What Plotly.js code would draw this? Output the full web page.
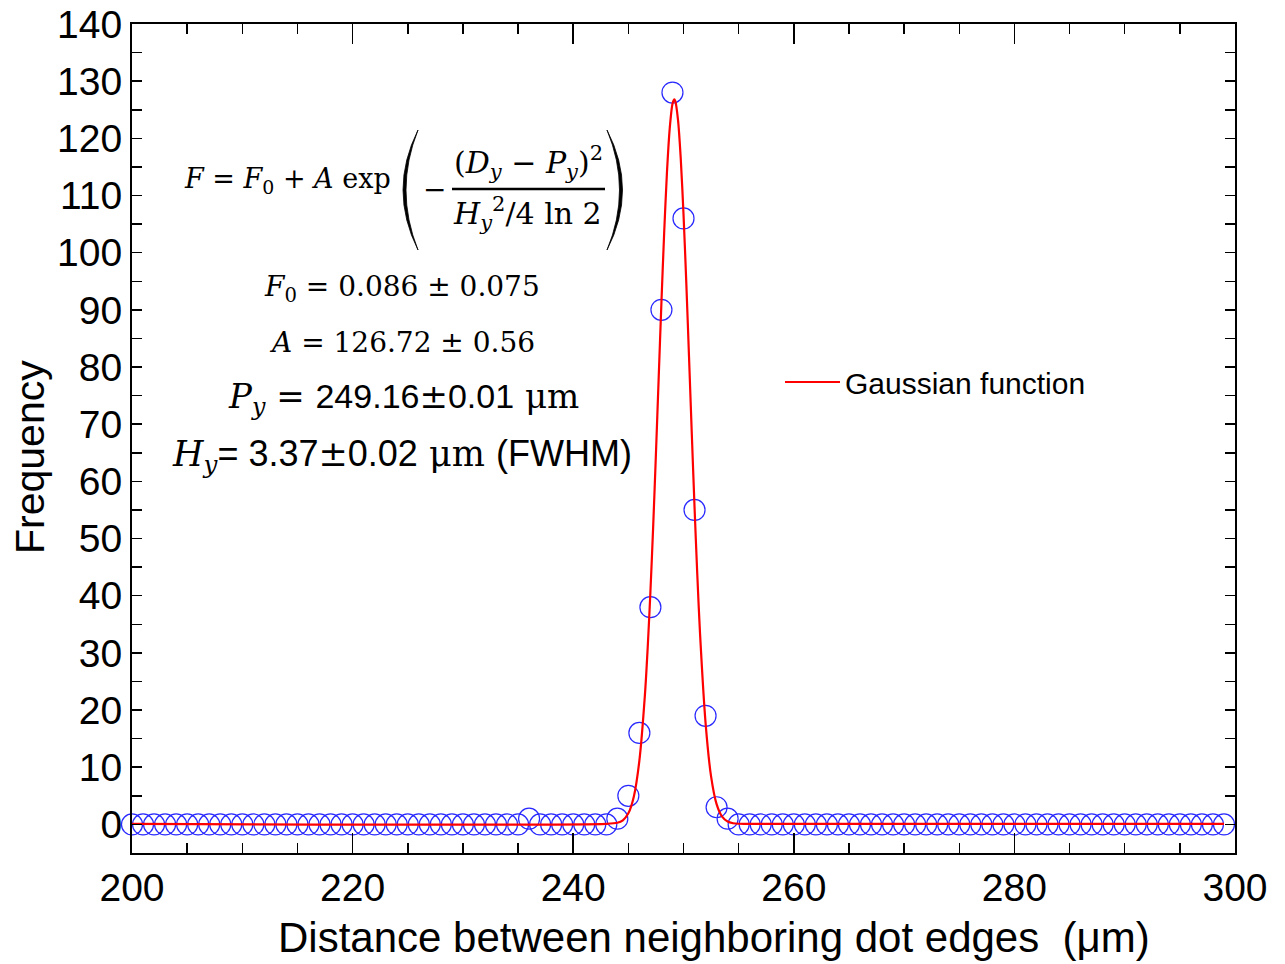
<!DOCTYPE html>
<html>
<head>
<meta charset="utf-8">
<script src="https://cdn.plot.ly/plotly-3.0.1.min.js"></script>
<style>html,body{margin:0;padding:0;background:#fff;}</style>
</head>
<body>
<div id="chart" style="width:1285px;height:964px;"></div>
<script>
// Measured frequencies (Distance 200..299 µm, step 1)
const distance = [
  200,201,202,203,204,205,206,207,208,209,
  210,211,212,213,214,215,216,217,218,219,
  220,221,222,223,224,225,226,227,228,229,
  230,231,232,233,234,235,236,237,238,239,
  240,241,242,243,244,245,246,247,248,249,
  250,251,252,253,254,255,256,257,258,259,
  260,261,262,263,264,265,266,267,268,269,
  270,271,272,273,274,275,276,277,278,279,
  280,281,282,283,284,285,286,287,288,289,
  290,291,292,293,294,295,296,297,298,299
];
const frequency = [
  0,0,0,0,0,0,0,0,0,0,
  0,0,0,0,0,0,0,0,0,0,
  0,0,0,0,0,0,0,0,0,0,
  0,0,0,0,0,0,1,0,0,0,
  0,0,0,0,1,5,16,38,90,128,
  106,55,19,3,1,0,0,0,0,0,
  0,0,0,0,0,0,0,0,0,0,
  0,0,0,0,0,0,0,0,0,0,
  0,0,0,0,0,0,0,0,0,0,
  0,0,0,0,0,0,0,0,0,0
];
// Gaussian fit curve
const fitX = [200, 243, 244, 244.5, 245, 245.5, 246, 246.5, 246.75, 247, 247.25, 247.5, 247.75,
  248, 248.25, 248.5, 248.75, 249, 249.16, 249.25, 249.5, 249.75, 250, 250.25, 250.5, 250.75,
  251, 251.25, 251.5, 252, 252.5, 253, 253.5, 254, 254.5, 255, 256, 299];
const fitY = [0.09, 0.1, 0.28, 0.72, 1.94, 4.9, 11.16, 22.61, 30.78, 40.65, 52.09, 64.75, 78.08,
  91.33, 103.61, 114.02, 121.71, 126.02, 126.81, 126.56, 123.28, 116.48, 106.76, 94.9, 81.84, 68.45,
  55.53, 43.71, 33.37, 17.77, 8.4, 3.55, 1.36, 0.5, 0.21, 0.12, 0.09, 0.09];

const xTickVals = [200, 220, 240, 260, 280, 300];
const yTickVals = [0,10,20,30,40,50,60,70,80,90,100,110,120,130,140];
const fitName = 'Gaussian function';
const xTitle = 'Distance between neighboring dot edges\u00a0 (\u03bcm)';
const yTitle = 'Frequency';

const SANS = 'Liberation Sans, Arial, sans-serif';
const SERIF = 'DejaVu Serif, serif';

// pixel -> paper helpers (plot area: x 132..1235, y 24..853)
const L = 132, R = 1235, T = 24, B = 853;
const PX = p => (p - L) / (R - L);
const PY = p => (B - p) / (B - T);
const pt = (x, y) => PX(x) + ',' + PY(y);

function ann(text, x, y, size, xanchor, family, extra) {
  return Object.assign({
    text: text, xref: 'paper', yref: 'paper', x: PX(x), y: PY(y),
    xanchor: xanchor || 'center', yanchor: 'middle', showarrow: false,
    font: {family: family || SERIF, size: size, color: '#000'}
  }, extra || {});
}
const sans = (t, s) => '<span style="font-family:Liberation Sans, Arial, sans-serif;font-size:' + s + 'px">' + t + '</span>';

const annotations = [
  ann('<i>F</i> = <i>F</i><sub>0</sub> + <i>A</i> exp', 182, 180, 27, 'left'),
  ann('\u2212', 434, 189, 28),
  ann('(<i>D</i><sub><i>y</i></sub> \u2212 <i>P</i><sub><i>y</i></sub>)<sup>2</sup>', 528, 163, 30),
  ann('<i>H</i><sub><i>y</i></sub><sup>2</sup>/4 ln 2', 527, 214, 30),
  ann('<i>F</i><sub>0</sub> = 0.086 \u00b1 0.075', 402, 288, 28),
  ann('<i>A</i> = 126.72 \u00b1 0.56', 402, 342, 28),
  ann('<i>P</i><sub><i>y</i></sub> = ' + sans('249.16', 34) + '\u00b1' + sans('0.01', 34) + ' \u03bcm', 403, 398, 34),
  ann('<i>H</i><sub><i>y</i></sub>' + sans('= 3.37', 36) + '\u00b1' + sans('0.02', 36) + ' \u03bcm ' + sans('(FWHM)', 36), 402, 456, 35),
  ann(xTitle, 714, 938, 42, 'center', SANS),
  ann(yTitle, 30, 457, 41, 'center', SANS, {textangle: -90})
];

const shapes = [
  // fraction bar
  {type: 'line', xref: 'paper', yref: 'paper', x0: PX(452), x1: PX(605), y0: PY(189), y1: PY(189),
   line: {color: '#000', width: 2.5}},
  // big left parenthesis
  {type: 'path', xref: 'paper', yref: 'paper',
   path: 'M' + pt(418,130) + ' Q' + pt(388,190) + ' ' + pt(418,250) + ' Q' + pt(394,190) + ' ' + pt(418,130) + ' Z',
   fillcolor: '#000', line: {color: '#000', width: 0.8}},
  // big right parenthesis
  {type: 'path', xref: 'paper', yref: 'paper',
   path: 'M' + pt(607,130) + ' Q' + pt(638,190) + ' ' + pt(607,250) + ' Q' + pt(632,190) + ' ' + pt(607,130) + ' Z',
   fillcolor: '#000', line: {color: '#000', width: 0.8}}
];

const traces = [
  {
    x: distance, y: frequency, type: 'scatter', mode: 'markers', showlegend: false,
    marker: {symbol: 'circle-open', size: 21, color: 'rgb(40,40,255)', line: {width: 1.2, color: 'rgb(40,40,255)'}},
    cliponaxis: false
  },
  {
    x: fitX, y: fitY, type: 'scatter', mode: 'lines', name: fitName,
    line: {color: '#ff0000', width: 2.2, shape: 'spline', smoothing: 0.8}
  }
];

const axisCommon = {
  showgrid: false, zeroline: false, showline: true, linecolor: '#000', linewidth: 2,
  mirror: 'ticks', ticks: 'inside', tickcolor: '#000', tickwidth: 1.5,
  tickfont: {family: SANS, size: 39, color: '#000'}
};

const layout = {
  width: 1285, height: 964,
  margin: {l: L, r: 1285 - R, t: T, b: 964 - B},
  paper_bgcolor: '#fff', plot_bgcolor: '#fff',
  xaxis: Object.assign({}, axisCommon, {
    range: [200, 300], tickmode: 'array', tickvals: xTickVals, ticklen: 20,
    minor: {dtick: 5, tick0: 200, ticklen: 10, ticks: 'inside', tickcolor: '#000', tickwidth: 1.5, showgrid: false},
    ticklabelstandoff: -1
  }),
  yaxis: Object.assign({}, axisCommon, {
    range: [-5, 140], tickmode: 'array', tickvals: yTickVals, ticklen: 10,
    minor: {dtick: 5, tick0: 0, ticklen: 10, ticks: 'inside', tickcolor: '#000', tickwidth: 1.5, showgrid: false},
    ticklabelstandoff: 0
  }),
  showlegend: true,
  legend: {
    x: PX(780), y: PY(382), xanchor: 'left', yanchor: 'middle',
    bgcolor: 'rgba(0,0,0,0)', borderwidth: 0, itemwidth: 55,
    font: {family: SANS, size: 30, color: '#000'}
  },
  annotations: annotations,
  shapes: shapes
};

Plotly.newPlot('chart', traces, layout, {displayModeBar: false, staticPlot: true});
</script>
</body>
</html>
